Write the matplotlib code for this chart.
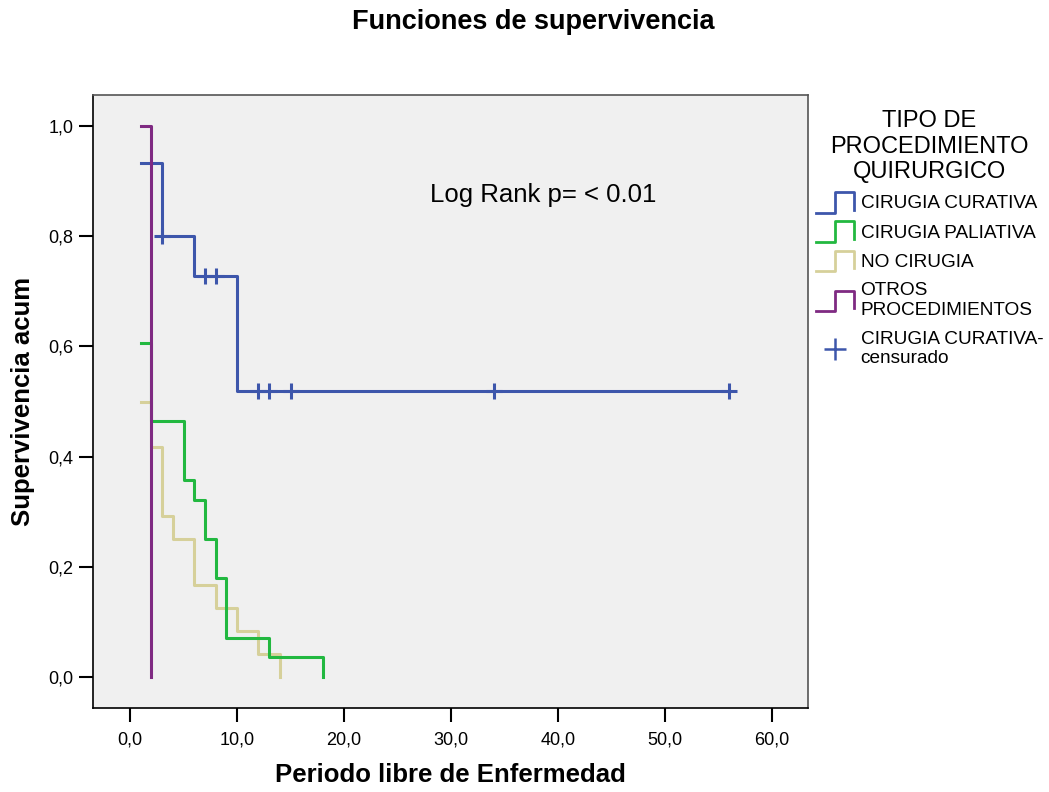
import matplotlib
matplotlib.use("Agg")
import matplotlib.pyplot as plt
from matplotlib.legend_handler import HandlerBase
from matplotlib.lines import Line2D
from matplotlib.ticker import FuncFormatter

plt.rcParams['font.family'] = ['Liberation Sans', 'DejaVu Sans']

# ---- data ----
cur_t = [1, 3, 6, 10, 56]
cur_s = [0.933, 0.800, 0.727, 0.519, 0.519]
cur_cens_t = [3, 7, 8, 12, 13, 15, 34, 56]
cur_cens_s = [0.800, 0.727, 0.727, 0.519, 0.519, 0.519, 0.519, 0.519]

pal_t = [1, 2, 5, 6, 7, 8, 9, 13, 18]
pal_s = [0.607, 0.464, 0.357, 0.321, 0.250, 0.179, 0.071, 0.036, 0.0]

no_t = [1, 2, 3, 4, 6, 8, 10, 12, 14]
no_s = [0.500, 0.417, 0.292, 0.250, 0.167, 0.125, 0.083, 0.042, 0.0]

otr_t = [1, 2]
otr_s = [1.0, 0.0]

labels = ["CIRUGIA CURATIVA", "CIRUGIA PALIATIVA", "NO CIRUGIA",
          "OTROS\nPROCEDIMIENTOS", "CIRUGIA CURATIVA-\ncensurado"]
colors = ["#3D56AB", "#22B840", "#D6D09A", "#7F2A82"]

fig = plt.figure(figsize=(10.49, 7.92), dpi=100)
ax = fig.add_axes([93/1049, 1-708/792, (808-93)/1049, (708-95)/792])
ax.set_facecolor("#F0F0F0")

series = [(cur_t, cur_s), (pal_t, pal_s), (no_t, no_s), (otr_t, otr_s)]
order = [2, 1, 0, 3]
for i in order:
    t, s = series[i]
    ax.step(t, s, where='post', color=colors[i], lw=2.2, zorder=2 + (1 if i == 3 else 0))
ax.plot(cur_cens_t, cur_cens_s, linestyle='none', marker='+', ms=12, mew=2.2,
        color=colors[0], zorder=3)

ax.set_xlim(-3.46, 63.36)
ax.set_ylim(-0.056, 1.056)
ax.set_xticks([0, 10, 20, 30, 40, 50, 60])
ax.set_yticks([0, 0.2, 0.4, 0.6, 0.8, 1.0])
fmt = FuncFormatter(lambda v, p: f"{v:.1f}".replace('.', ','))
ax.xaxis.set_major_formatter(fmt)
ax.yaxis.set_major_formatter(fmt)
ax.tick_params(axis='both', direction='out', length=10, width=1.5, labelsize=13, pad=4,
               colors='black')
ax.tick_params(axis='x', pad=7)
for sp in ['top', 'right']:
    ax.spines[sp].set_color('#555555')
for sp in ax.spines.values():
    sp.set_linewidth(1.2)

ax.set_xlabel("Periodo libre de Enfermedad", fontsize=18.5, fontweight='bold', labelpad=10)
ax.set_ylabel("Supervivencia acum", fontsize=18.5, fontweight='bold', labelpad=10)
fig.suptitle("Funciones de supervivencia", fontsize=19.5, fontweight='bold',
             x=533/1049, y=1 - 9/792)

ax.text(28, 0.875, "Log Rank p= < 0.01", fontsize=18.5, ha='left', va='center')


class StepHandler(HandlerBase):
    def __init__(self, color):
        super().__init__()
        self.color = color

    def create_artists(self, legend, orig_handle, xdescent, ydescent, width, height, fontsize, trans):
        x0 = -xdescent
        y0 = -ydescent - 3
        h = height + 5
        xs = [x0, x0 + width * 0.5, x0 + width * 0.5, x0 + width, x0 + width]
        ys = [y0, y0, y0 + h, y0 + h, y0 + 0.15 * h]
        ln = Line2D(xs, ys, color=self.color, lw=2, transform=trans)
        return [ln]


handles = [Line2D([], [], color=c) for c in colors]
cens_h = Line2D([], [], linestyle='none', marker='+', ms=16, mew=1.8, color=colors[0])
handler_map = {handles[i]: StepHandler(colors[i]) for i in range(4)}
leg = fig.legend(handles + [cens_h], labels, handler_map=handler_map,
                 loc='upper left', bbox_to_anchor=(812/1049, 1-106/792),
                 frameon=False, fontsize=13.7,
                 title="TIPO DE\nPROCEDIMIENTO\nQUIRURGICO", title_fontsize=17,
                 handlelength=2.0, handletextpad=0.35, labelspacing=0.62,
                 borderaxespad=0, borderpad=0.2)
leg._legend_box.align = "center"
leg.get_title().set_multialignment('center')
leg.get_title().set_linespacing(1.22)
for txt in leg.get_texts():
    txt.set_linespacing(1.2)

fig.savefig("out.png", dpi=100)
